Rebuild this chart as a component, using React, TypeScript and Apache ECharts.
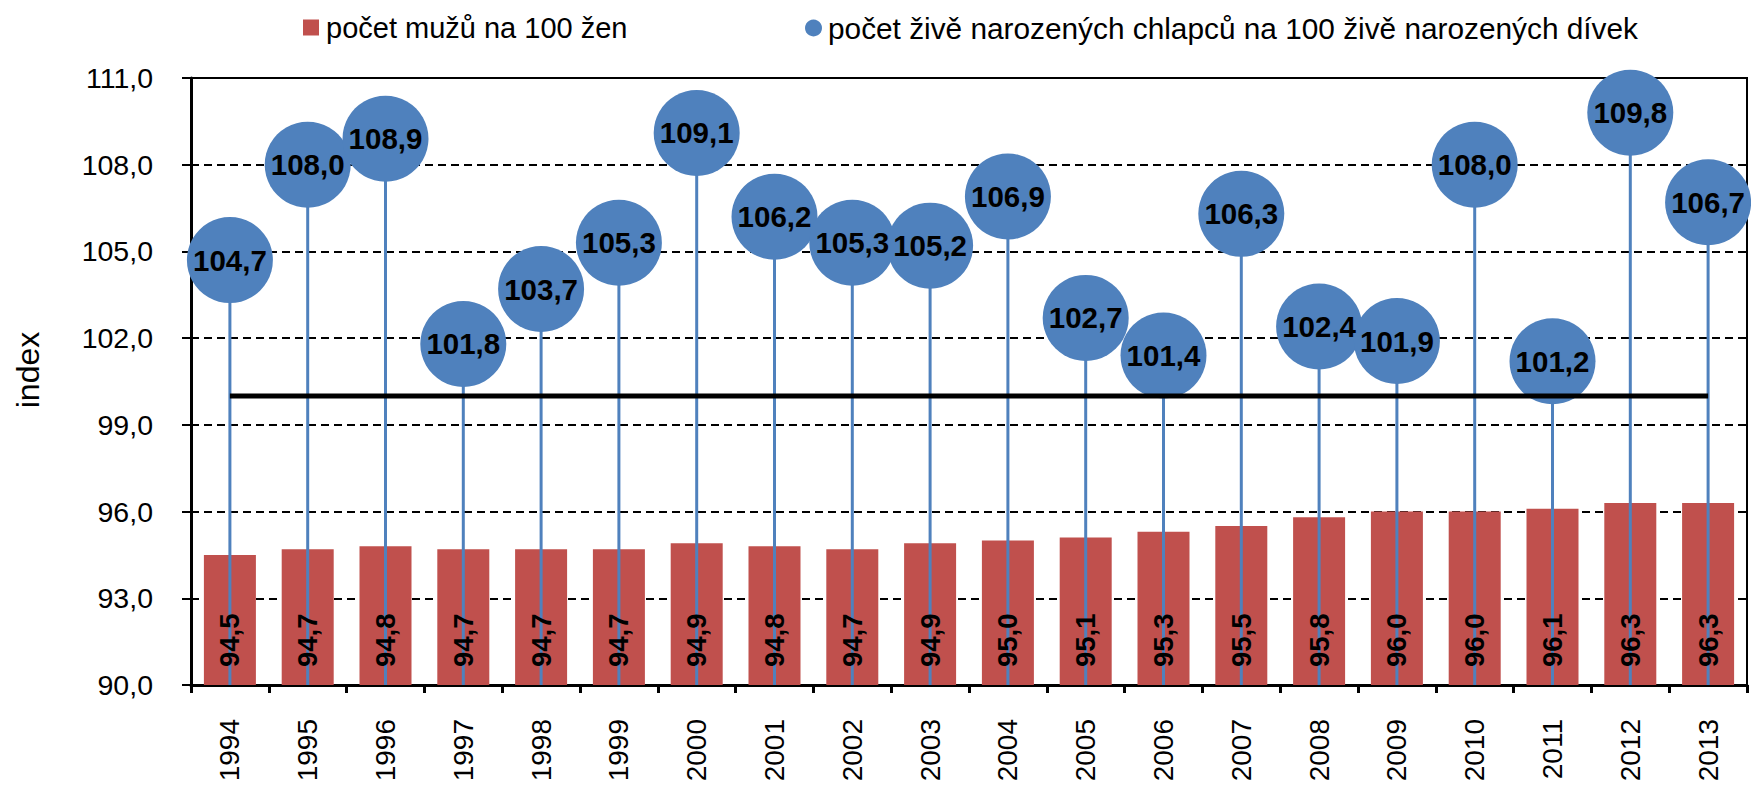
import React, { useEffect, useRef } from "react";
import * as echarts from "echarts";

const years = ["1994", "1995", "1996", "1997", "1998", "1999", "2000", "2001", "2002", "2003", "2004", "2005", "2006", "2007", "2008", "2009", "2010", "2011", "2012", "2013"];
const menPer100Women = [94.5, 94.7, 94.8, 94.7, 94.7, 94.7, 94.9, 94.8, 94.7, 94.9, 95.0, 95.1, 95.3, 95.5, 95.8, 96.0, 96.0, 96.1, 96.3, 96.3];
const boysPer100Girls = [104.7, 108.0, 108.9, 101.8, 103.7, 105.3, 109.1, 106.2, 105.3, 105.2, 106.9, 102.7, 101.4, 106.3, 102.4, 101.9, 108.0, 101.2, 109.8, 106.7];
const parityLine = [100, 100, 100, 100, 100, 100, 100, 100, 100, 100, 100, 100, 100, 100, 100, 100, 100, 100, 100, 100];
const yTicks = { min: 90, max: 111, interval: 3 };

const nameMen = "počet mužů na 100 žen";
const nameBirths = "počet živě narozených chlapců na 100 živě narozených dívek";

const FONT = "'Liberation Sans', Arial, sans-serif";
const RED = "#C0504D";
const BLUE = "#4F81BD";
const fmt = (v: number) => v.toFixed(1).replace(".", ",");

export default function App() {
  const ref = useRef<HTMLDivElement>(null);
  useEffect(() => {
    if (!ref.current) return;
    const chart = echarts.init(ref.current, null, { renderer: "svg" });
    chart.setOption({
      animation: false,
      backgroundColor: "#fff",
      textStyle: { fontFamily: FONT },
      legend: [
        {
          data: [{ name: nameMen, icon: "rect" }],
          left: 298,
          top: 8,
          itemWidth: 16,
          itemHeight: 16,
          selectedMode: false,
          textStyle: { fontSize: 29, color: "#000", fontFamily: FONT, padding: [0, 0, 0, 2] },
        },
        {
          data: [{ name: nameBirths, icon: "circle" }],
          left: 800,
          top: 8,
          itemWidth: 17,
          itemHeight: 17,
          selectedMode: false,
          textStyle: { fontSize: 29.8, color: "#000", fontFamily: FONT, padding: [0, 0, 0, 1] },
        },
      ],
      grid: {
        left: 191,
        right: 4,
        top: 78,
        bottom: 102,
        show: true,
        borderColor: "#000",
        borderWidth: 2,
        containLabel: false,
      },
      xAxis: {
        type: "category",
        data: years,
        boundaryGap: true,
        axisLine: { show: true, lineStyle: { color: "#000", width: 3 } },
        axisTick: { show: true, length: 8, alignWithLabel: false, lineStyle: { color: "#000", width: 3 } },
        axisLabel: { rotate: 90, margin: 34, fontSize: 28, color: "#000", fontFamily: FONT, interval: 0 },
        splitLine: { show: false },
      },
      yAxis: {
        type: "value",
        min: yTicks.min,
        max: yTicks.max,
        interval: yTicks.interval,
        axisLine: { show: true, lineStyle: { color: "#000", width: 3 } },
        axisTick: { show: true, length: 9, lineStyle: { color: "#000", width: 2 } },
        axisLabel: { margin: 38, fontSize: 28.5, color: "#000", fontFamily: FONT, formatter: (v: number) => fmt(v) },
        splitLine: { show: true, lineStyle: { color: "#000", width: 2, type: [8, 5] } },
      },
      graphic: [
        {
          type: "text",
          x: 28,
          y: 370,
          rotation: Math.PI / 2,
          style: {
            text: "index",
            fontSize: 32,
            fontFamily: FONT,
            fill: "#000",
            textAlign: "center",
            textVerticalAlign: "middle",
          },
        },
      ],
      series: [
        {
          name: nameMen,
          type: "bar",
          data: menPer100Women,
          barWidth: 52,
          itemStyle: { color: RED },
          z: 2,
        },
        {
          name: "menLabels",
          type: "bar",
          data: menPer100Women,
          barWidth: 52,
          barGap: "-100%",
          itemStyle: { color: "rgba(0,0,0,0)" },
          silent: true,
          z: 10,
          label: {
            show: true,
            position: "insideBottom",
            rotate: 90,
            align: "left",
            verticalAlign: "middle",
            distance: 18,
            fontSize: 27.5,
            fontWeight: "bold",
            color: "#000",
            fontFamily: FONT,
            formatter: (p: any) => fmt(p.value),
          },
        },
        {
          name: "stems",
          type: "custom",
          data: boysPer100Girls.map((v, i) => [i, v]),
          z: 3,
          silent: true,
          renderItem: (params: any, api: any) => {
            const top = api.coord([api.value(0), api.value(1)]);
            const bottom = api.coord([api.value(0), yTicks.min]);
            return {
              type: "line",
              shape: { x1: top[0], y1: top[1], x2: bottom[0], y2: bottom[1] },
              style: { stroke: BLUE, lineWidth: 3 },
            };
          },
        },
        {
          name: nameBirths,
          type: "scatter",
          data: boysPer100Girls,
          symbol: "circle",
          symbolSize: 86,
          itemStyle: { color: BLUE, opacity: 1 },
          z: 4,
          label: {
            show: true,
            position: "inside",
            fontSize: 29.5,
            fontWeight: "bold",
            color: "#000",
            fontFamily: FONT,
            formatter: (p: any) => fmt(p.value),
          },
        },
        {
          name: "parity",
          type: "line",
          data: parityLine,
          symbol: "none",
          lineStyle: { color: "#000", width: 5 },
          z: 5,
          silent: true,
        },
      ],
    });
    return () => chart.dispose();
  }, []);
  return <div ref={ref} style={{ position: "fixed", left: 0, top: 0, width: 1751, height: 787 }} />;
}
